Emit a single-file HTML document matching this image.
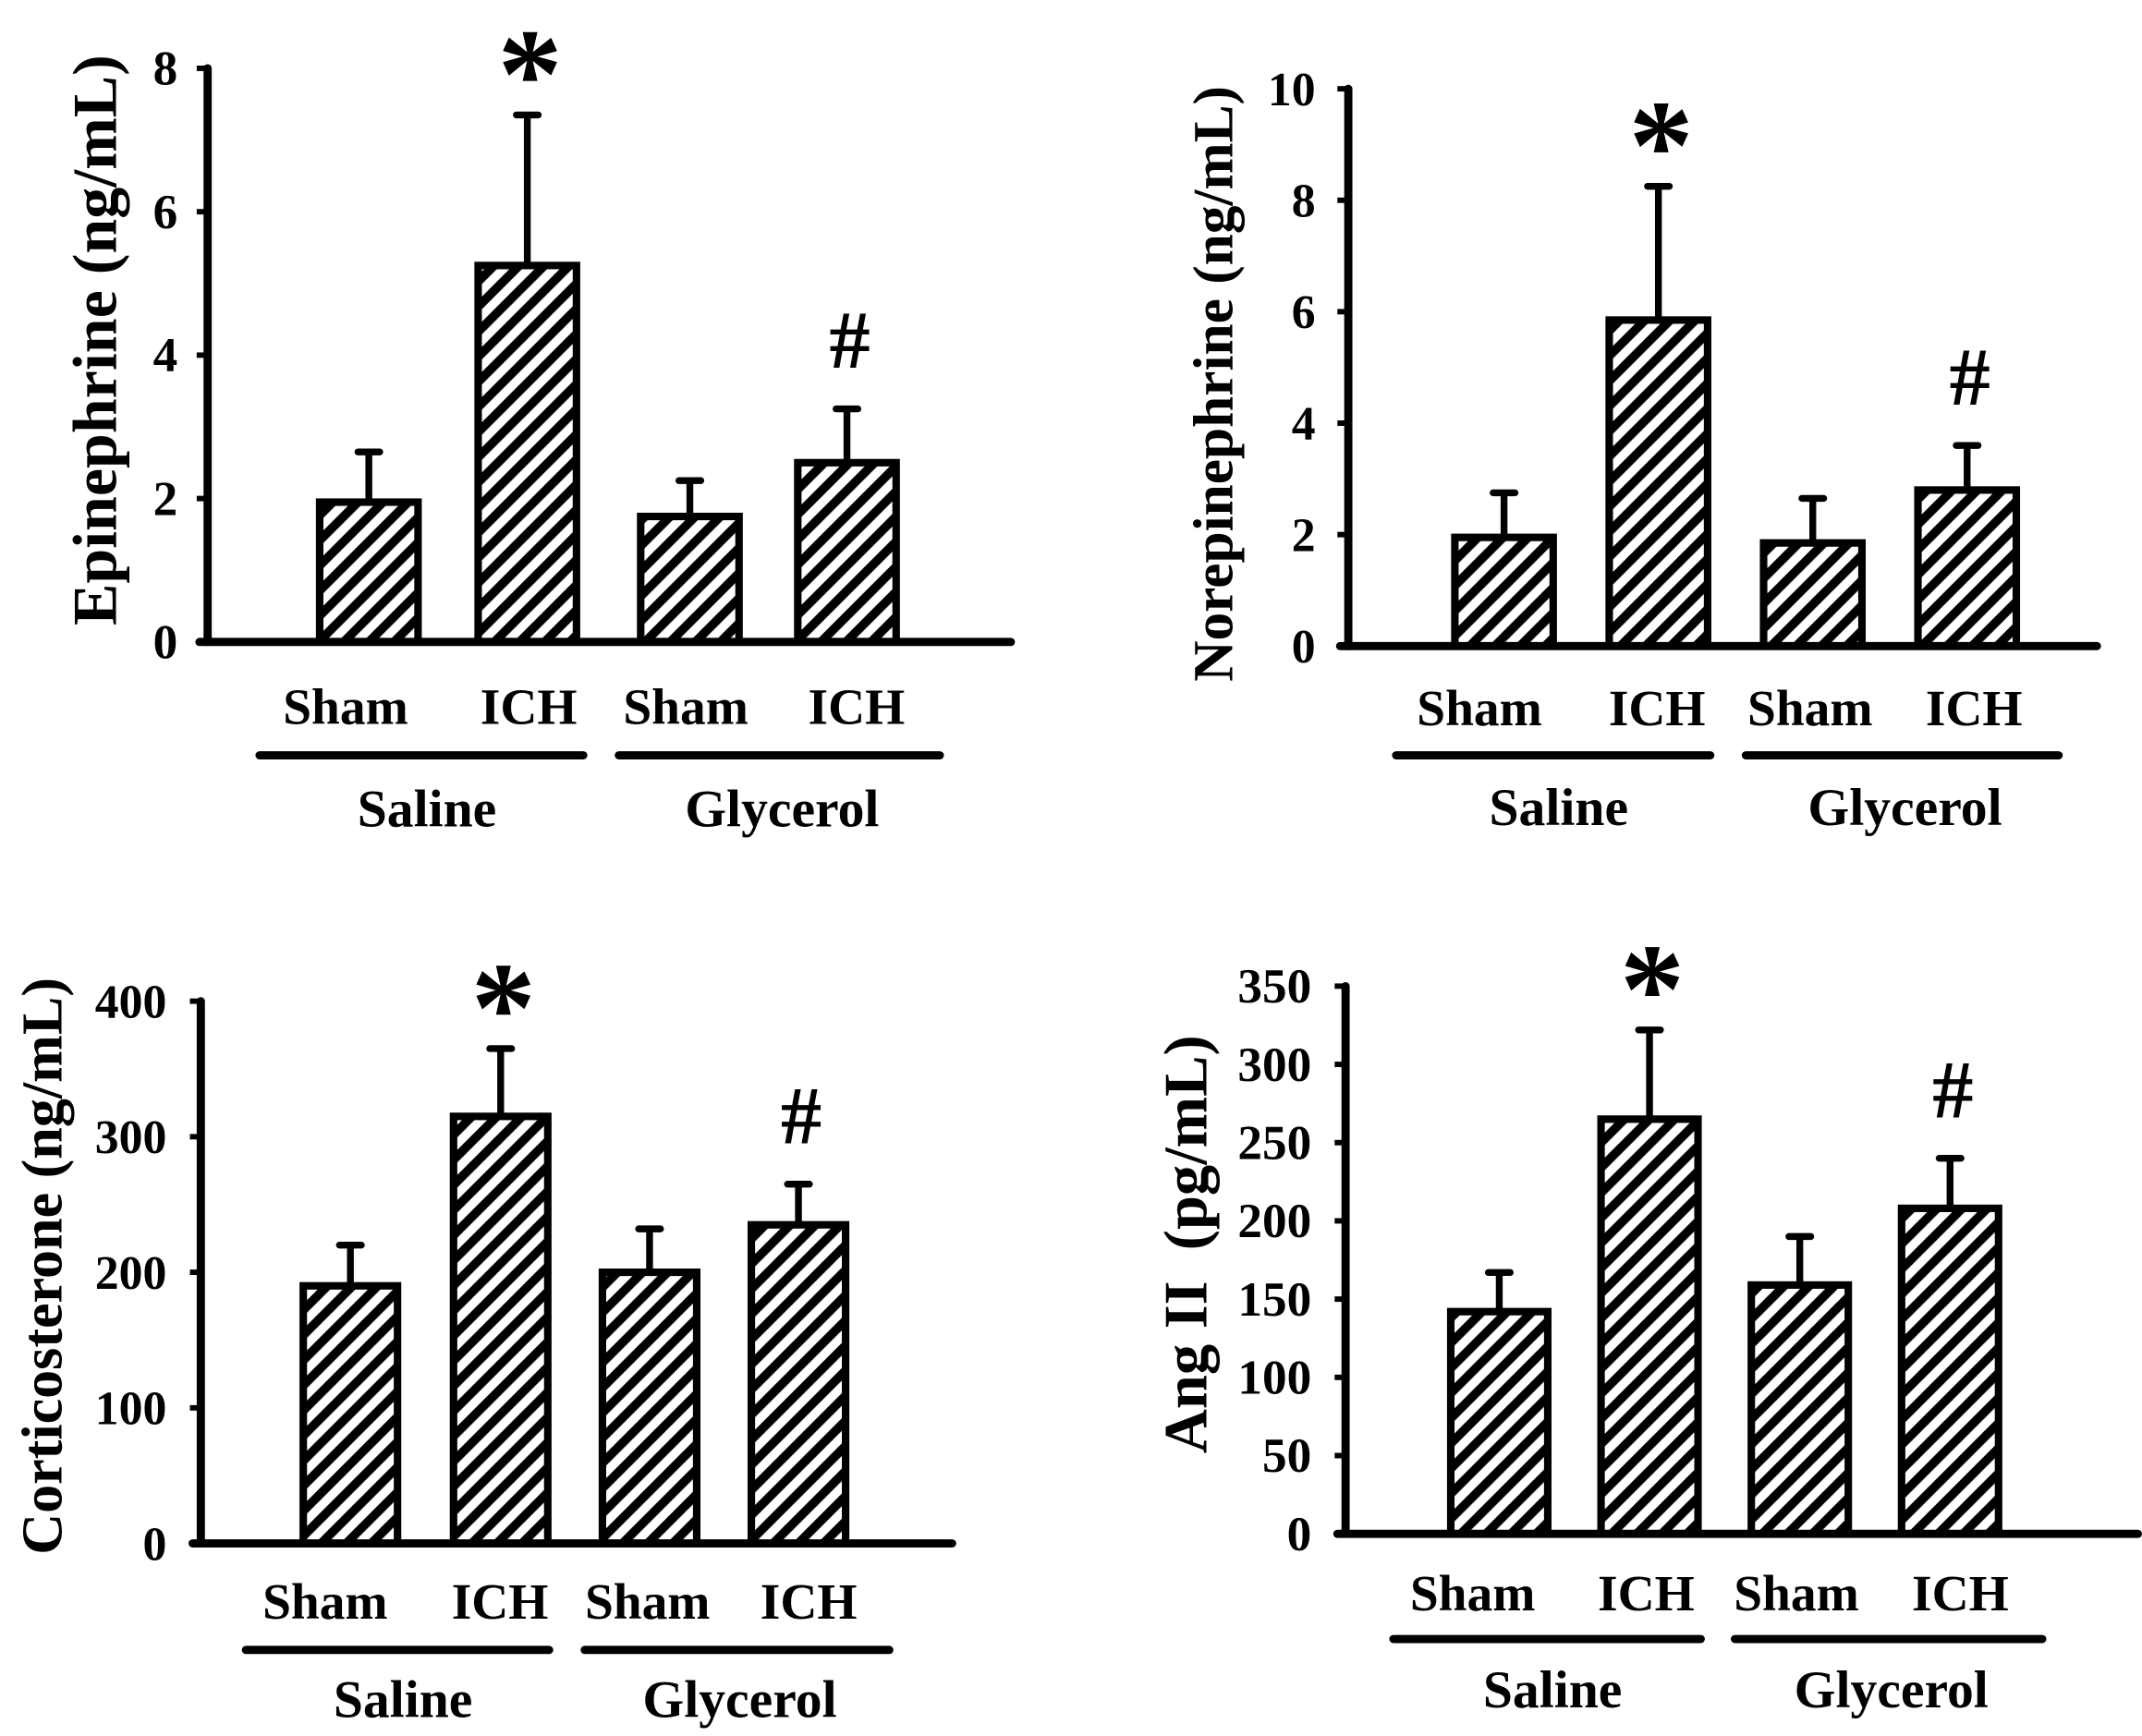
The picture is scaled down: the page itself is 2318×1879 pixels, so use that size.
<!DOCTYPE html>
<html><head><meta charset="utf-8"><style>
html,body{margin:0;padding:0;background:#fff}
svg{display:block}
text{font-family:"Liberation Serif",serif;font-weight:bold;fill:#000}
</style></head><body>
<svg id="fig" width="2318" height="1879" viewBox="0 0 1568 1271" xmlns="http://www.w3.org/2000/svg">
<defs>
<pattern id="hatch" patternUnits="userSpaceOnUse" width="13" height="13" patternTransform="rotate(45)">
<rect width="13" height="13" fill="#fff"/>
<rect x="0" y="0" width="6.5" height="13" fill="#000"/>
</pattern>
</defs>
</svg>
<script>
const categories = ["Sham","ICH","Sham","ICH"];
const groups = ["Saline","Glycerol"];
const epiValues = [1.95, 5.25, 1.75, 2.5];
const epiErrors = [0.7, 2.1, 0.5, 0.75];
const epiTicks = [0,2,4,6,8];
const norepiValues = [1.95, 5.85, 1.85, 2.8];
const norepiErrors = [0.8, 2.4, 0.8, 0.8];
const norepiTicks = [0,2,4,6,8,10];
const cortValues = [190, 315, 200, 235];
const cortErrors = [30, 50, 32, 30];
const cortTicks = [0,100,200,300,400];
const angValues = [142, 265, 159, 208];
const angErrors = [25, 57, 31, 32];
const angTicks = [0,50,100,150,200,250,300,350];
const marks = ["", "*", "", "#"];

const NS="http://www.w3.org/2000/svg";
const svg=document.getElementById('fig');
function mk(tag,attrs,parent){const e=document.createElementNS(NS,tag);for(const k in attrs)e.setAttribute(k,attrs[k]);(parent||svg).appendChild(e);return e;}

const panels=[
 {name:'epinephrine',vals:epiValues,errs:epiErrors,ticks:epiTicks,title:'Epinephrine (ng/mL)',ax:152,y0:470,yTop:50,xEnd:740,bars:[234,350,469,584],bw:72,labX:[253,387,502,627],labY:517,lines:[[190,427],[453,688]],lineY:553,grpY:592,titleX:70,titleY:249,titleSize:46,tickRight:130,tickSize:36},
 {name:'norepinephrine',vals:norepiValues,errs:norepiErrors,ticks:norepiTicks,title:'Norepinephrine (ng/mL)',ax:987,y0:473,yTop:65,xEnd:1535,bars:[1065,1178,1291,1404],bw:72,labX:[1083,1213,1325,1445],labY:518,lines:[[1022,1252],[1278,1507]],lineY:553,grpY:591,titleX:887,titleY:281,titleSize:41.5,tickRight:963,tickSize:35},
 {name:'corticosterone',vals:cortValues,errs:cortErrors,ticks:cortTicks,title:'Corticosterone (ng/mL)',ax:147,y0:1130,yTop:733,xEnd:697,bars:[222,332,441,550],bw:69,labX:[238,366,474,592],labY:1172,lines:[[180,402],[428,651]],lineY:1208,grpY:1244,titleX:30,titleY:927,titleSize:42,tickRight:122,tickSize:35},
 {name:'ang-ii',vals:angValues,errs:angErrors,ticks:angTicks,title:'Ang II\u00a0\u00a0(pg/mL)',ax:985,y0:1123,yTop:722,xEnd:1565,bars:[1062,1172,1282,1392],bw:71,labX:[1078,1205,1315,1435],labY:1166,lines:[[1020,1245],[1270,1495]],lineY:1200,grpY:1237,titleX:868,titleY:911,titleSize:45,tickRight:960,tickSize:36}
];

panels.forEach(p=>{
 const g=mk('g',{});
 
 
 const tmax=p.ticks[p.ticks.length-1];
 const y=v=>p.y0-(v/tmax)*(p.y0-p.yTop);
 p.vals.forEach((v,i)=>{
  const x=p.bars[i], cx=x+p.bw/2;
  const top=y(v), et=y(v+p.errs[i]);
  const eb=mk('line',{x1:cx,y1:top,x2:cx,y2:et,stroke:'#000','stroke-width':5},g);
  
  
  const cap=mk('line',{x1:cx-8,y1:et,x2:cx+8,y2:et,stroke:'#000','stroke-width':5,'stroke-linecap':'round'},g);
  
  
  const r=mk('rect',{x:x,y:top,width:p.bw,height:p.y0-top,fill:'url(#hatch)',stroke:'#000','stroke-width':5.5},g);
  
  
  if(marks[i]){
   const isStar=marks[i]=='*';
   const m=mk('text',{x:cx+2,y:isStar?et+2:et-30,'text-anchor':'middle','font-size':isStar?95:60,'font-weight':isStar?'normal':'bold'},g);
   m.textContent=marks[i];
   
   
  }
  const l=mk('text',{x:p.labX[i],y:p.labY+13,'text-anchor':'middle','font-size':37.5},g);
  l.textContent=categories[i];
  
  
 });
 const ya=mk('line',{x1:p.ax,y1:p.yTop,x2:p.ax,y2:p.y0,stroke:'#000','stroke-width':6,'stroke-linecap':'round'},g);
 
 
 const xa=mk('line',{x1:p.ax-6,y1:p.y0,x2:p.xEnd,y2:p.y0,stroke:'#000','stroke-width':6,'stroke-linecap':'round'},g);
 
 
 p.ticks.forEach(t=>{
  const tk=mk('line',{x1:p.ax-8,y1:y(t),x2:p.ax,y2:y(t),stroke:'#000','stroke-width':4},g);
  
  
  const tl=mk('text',{x:p.tickRight,y:y(t)+12,'text-anchor':'end','font-size':p.tickSize},g);
  tl.textContent=t;
  
  
 });
 p.lines.forEach((ln,j)=>{
  const gl=mk('line',{x1:ln[0],y1:p.lineY,x2:ln[1],y2:p.lineY,stroke:'#000','stroke-width':6,'stroke-linecap':'round'},g);
  
  
  const gt=mk('text',{x:(ln[0]+ln[1])/2+(j==0?4:2),y:p.grpY+13,'text-anchor':'middle','font-size':39},g);
  gt.textContent=groups[j];
  
  
 });
 const tt=mk('text',{x:0,y:0,'text-anchor':'middle','font-size':p.titleSize,transform:`translate(${p.titleX+15},${p.titleY}) rotate(-90)`},g);
 tt.textContent=p.title;
 
 
});
</script>
</body></html>
